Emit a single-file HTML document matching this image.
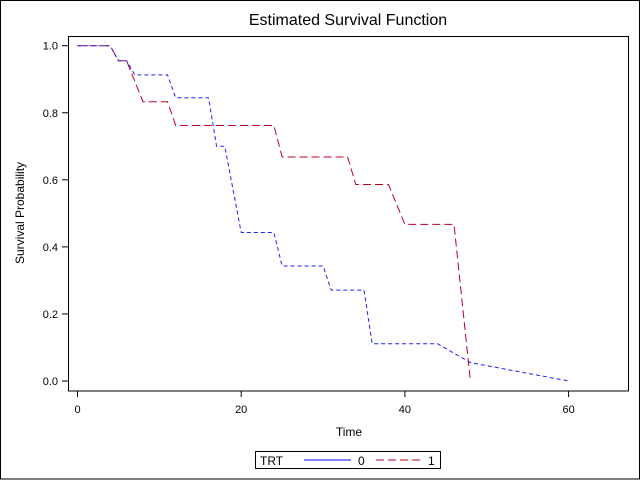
<!DOCTYPE html>
<html><head><meta charset="utf-8"><style>
html,body{margin:0;padding:0;background:#fff;}
svg{display:block;font-family:"Liberation Sans",sans-serif;}
</style></head><body>
<svg id="chart" width="640" height="480" viewBox="0 0 640 480" xmlns="http://www.w3.org/2000/svg">
<rect x="0.5" y="0.5" width="639" height="478.5" fill="#fff" stroke="#000" stroke-width="1"/>
<text x="348" y="25" text-anchor="middle" font-size="16">Estimated Survival Function</text>
<rect x="68.5" y="36.5" width="560" height="354.5" fill="none" stroke="#000" stroke-width="1"/>
<g id="yaxis"></g>
<g id="xaxis"></g>
<g id="series"></g>
<text transform="translate(24,213) rotate(-90)" text-anchor="middle" font-size="12">Survival Probability</text>
<text x="349" y="436" text-anchor="middle" font-size="12">Time</text>
<g>
<rect x="255.5" y="451.5" width="185" height="17" fill="#fff" stroke="#000"/>
<text x="260" y="465" font-size="12">TRT</text>
<line x1="304" y1="460" x2="351" y2="460" stroke="#0000ff" stroke-width="1"/>
<text x="358" y="465" font-size="12">0</text>
<line x1="376" y1="460" x2="420" y2="460" stroke="#c00020" stroke-width="1" stroke-dasharray="8,4"/>
<text x="428" y="465" font-size="12">1</text>
</g>
</svg>
<script>
const xTicks = [0, 20, 40, 60];
const yTicks = [0.0, 0.2, 0.4, 0.6, 0.8, 1.0];
const yTickLabels = ["0.0", "0.2", "0.4", "0.6", "0.8", "1.0"];
const time0 = [0,4,5,6,7,11,12,16,17,18,20,24,25,30,31,35,36,44,48,60];
const surv0 = [1,1,0.955,0.955,0.913,0.913,0.845,0.845,0.70,0.70,0.443,0.443,0.343,0.343,0.271,0.271,0.111,0.111,0.055,0];
const time1 = [0,4,5,6,8,11,12,24,25,33,34,38,40,46,48];
const surv1 = [1,1,0.955,0.955,0.833,0.833,0.762,0.762,0.668,0.668,0.586,0.586,0.467,0.467,0];

const NS = "http://www.w3.org/2000/svg";
function xs(t){ return 77.5 + t * (568.6 - 77.5) / 60; }
function ys(v){ return 381 - v * (381 - 45.7); }
function mk(tag, attrs, parent){ const e = document.createElementNS(NS, tag); for (const k in attrs) e.setAttribute(k, attrs[k]); parent.appendChild(e); return e; }

const ya = document.getElementById('yaxis');
yTicks.forEach((v, i) => {
  const l = mk('line', {x1: 62, x2: 68, y1: ys(v), y2: ys(v), stroke: '#000'}, ya);
  
  
  const t = mk('text', {x: 58, y: ys(v) + 4, 'text-anchor': 'end', 'font-size': 11}, ya);
  
  
  t.textContent = yTickLabels[i];
});
const xa = document.getElementById('xaxis');
xTicks.forEach(v => {
  const l = mk('line', {x1: xs(v), x2: xs(v), y1: 391, y2: 397, stroke: '#000'}, xa);
  
  
  const t = mk('text', {x: xs(v), y: 413, 'text-anchor': 'middle', 'font-size': 11}, xa);
  
  
  t.textContent = String(v);
});
const sg = document.getElementById('series');
function pts(ts, vs){ return ts.map((t, i) => xs(t).toFixed(1) + ',' + ys(vs[i]).toFixed(1)).join(' '); }
const p1 = mk('polyline', {points: pts(time1, surv1), fill: 'none', stroke: '#c00020', 'stroke-width': 1, 'stroke-dasharray': '8,4'}, sg);


const p0 = mk('polyline', {points: pts(time0, surv0), fill: 'none', stroke: '#2020ff', 'stroke-width': 1, 'stroke-dasharray': '4,3'}, sg);


</script>
</body></html>
